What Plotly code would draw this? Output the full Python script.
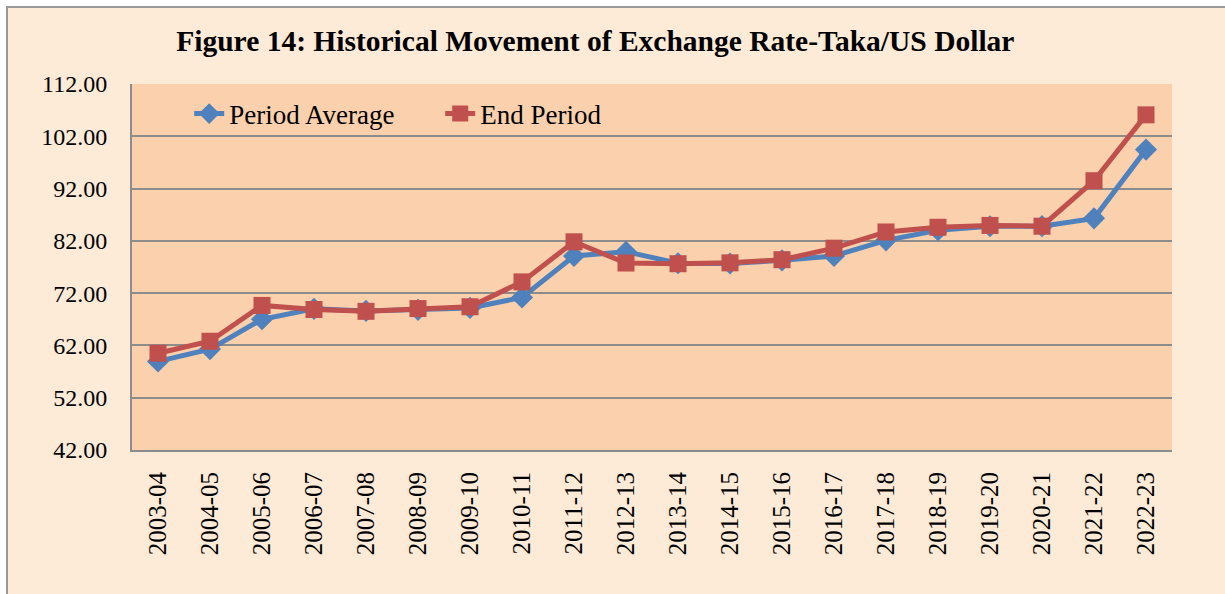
import plotly.graph_objects as go

# Taka per US dollar, fiscal years
years = ['2003-04', '2004-05', '2005-06', '2006-07', '2007-08', '2008-09',
         '2009-10', '2010-11', '2011-12', '2012-13', '2013-14', '2014-15',
         '2015-16', '2016-17', '2017-18', '2018-19', '2019-20', '2020-21',
         '2021-22', '2022-23']
period_average = [58.94, 61.30, 67.00, 69.00, 68.60, 68.80, 69.18, 71.17,
                  79.10, 79.93, 77.72, 77.67, 78.27, 79.12, 82.10, 84.03,
                  84.78, 84.81, 86.30, 99.45]
end_period = [60.50, 62.80, 69.65, 68.87, 68.52, 69.05, 69.40, 74.15,
              81.82, 77.76, 77.63, 77.80, 78.40, 80.60, 83.70, 84.60,
              84.95, 84.80, 93.50, 106.10]
y_ticks = [42, 52, 62, 72, 82, 92, 102, 112]

SERIF = 'Liberation Serif, Times New Roman, serif'
GRID = '#8c8c8c'

fig = go.Figure()
fig.add_trace(go.Scatter(
    x=years, y=period_average, name='Period Average',
    mode='lines+markers',
    line=dict(color='#4f81bd', width=5),
    marker=dict(symbol='diamond', size=17, color='#4f81bd')
))
fig.add_trace(go.Scatter(
    x=years, y=end_period, name='End Period',
    mode='lines+markers',
    line=dict(color='#c0504d', width=5),
    marker=dict(symbol='square', size=17, color='#c0504d')
))

# outer chart area with its grey frame, then the plot area fill
fig.add_shape(type='rect', xref='paper', yref='paper',
              x0=-0.1202, x1=1.2, y0=-0.6, y1=1.2104,
              fillcolor='#fdead7', line=dict(color='#999999', width=2),
              layer='below')
fig.add_shape(type='rect', xref='paper', yref='paper',
              x0=0, x1=1, y0=0, y1=1,
              fillcolor='#fbd0ac', line=dict(width=0),
              layer='below')

fig.update_layout(
    width=1225, height=594,
    margin=dict(l=132, r=53, t=84, b=144),
    paper_bgcolor='white',
    plot_bgcolor='rgba(0,0,0,0)',
    font=dict(family=SERIF, color='black'),
    title=dict(
        text='<b>Figure 14: Historical Movement of Exchange Rate-Taka/US Dollar</b>',
        font=dict(family=SERIF, size=29.5, color='black'),
        x=0.486, xanchor='center', y=0.931, yanchor='middle'
    ),
    legend=dict(
        orientation='h', x=0.055, y=0.918, xanchor='left', yanchor='middle',
        bgcolor='rgba(0,0,0,0)', font=dict(family=SERIF, size=27),
        entrywidth=206, traceorder='normal'
    ),
    xaxis=dict(
        type='category', tickangle=-90, range=[-0.5, 19.5],
        tickfont=dict(family=SERIF, size=25),
        showgrid=False, showline=True, linecolor=GRID, linewidth=2,
        ticks='', ticklabelstandoff=10, fixedrange=True
    ),
    yaxis=dict(
        range=[42, 112], tickvals=y_ticks,
        ticktext=[f'{v:.2f}' for v in y_ticks],
        tickfont=dict(family=SERIF, size=24),
        showgrid=True, gridcolor=GRID, gridwidth=2,
        showline=True, linecolor=GRID, linewidth=2,
        zeroline=False, ticks='', ticklabelstandoff=18, fixedrange=True
    ),
    showlegend=True
)

fig.write_html('out.html', config={'displayModeBar': False},
               post_script="document.body.style.margin='0';")
